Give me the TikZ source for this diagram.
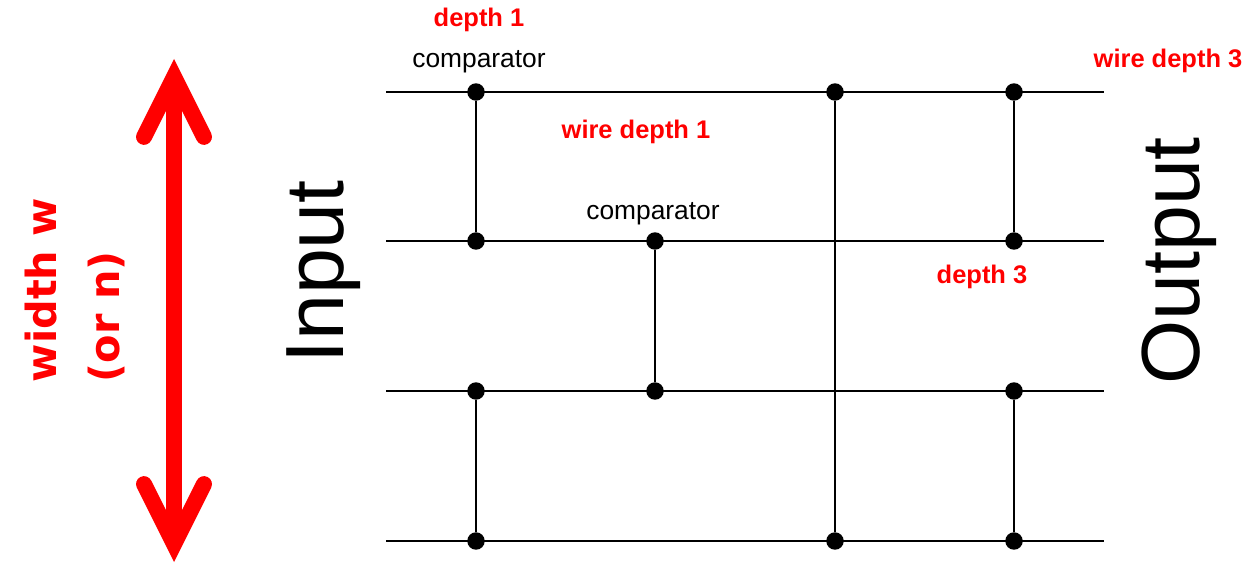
\documentclass[tikz,border=0pt]{standalone}
\usepackage{fontspec}
\setmainfont{Liberation Sans}
\newfontfamily\widthfont{DejaVu Sans}
\usetikzlibrary{arrows.meta}

\tikzset{
  wire/.style={line width=0.9pt},
  comp/.style={circle, fill=black, inner sep=0pt, minimum size=0.35cm},
  note/.style={text=red, font=\bfseries\fontsize{14.5}{17}\selectfont},
  lbl/.style={font=\fontsize{15}{18}\selectfont},
  side/.style={rotate=90, anchor=base, inner sep=0pt, font=\fontsize{47}{50}\selectfont},
}

\begin{document}
\begin{tikzpicture}[x=0.02cm, y=-0.02cm]
\useasboundingbox (0,0) rectangle (1249,588);

% the four wires
\foreach \i/\y in {0/92, 1/241, 2/391, 3/541} {
  \coordinate (in\i) at (386,\y);
  \coordinate (out\i) at (1104,\y);
  \draw[wire] (in\i) -- (out\i);
}

% comparators (dots)
\node[comp] (a0) at (476,92) {};
\node[comp] (a1) at (476,241) {};
\node[comp] (a2) at (476,391) {};
\node[comp] (a3) at (476,541) {};
\node[comp] (b1) at (655,241) {};
\node[comp] (b2) at (655,391) {};
\node[comp] (c0) at (835,92) {};
\node[comp] (c3) at (835,541) {};
\node[comp] (d0) at (1014,92) {};
\node[comp] (d1) at (1014,241) {};
\node[comp] (d2) at (1014,391) {};
\node[comp] (d3) at (1014,541) {};

\draw[wire] (a0) -- (a1);
\draw[wire] (a2) -- (a3);
\draw[wire] (b1) -- (b2);
\draw[wire] (c0) -- (c3);
\draw[wire] (d0) -- (d1);
\draw[wire] (d2) -- (d3);

% labels
\node[note] (dep1) at (479,20) {depth 1};
\node[lbl] (cmp1) at (479,62) {comparator};
\node[note] (wdep1) at (636,132) {wire depth 1};
\node[lbl] (cmp2) at (653,214) {comparator};
\node[note] (wdep3) at (1168,61) {wire depth 3};
\node[note] (dep3) at (982,277) {depth 3};

\node[side] (inp) at (343,272) {Input};
\node[side] (outp) at (1199,261) {Output};

% width arrow
\coordinate (wtop) at (174,59);
\coordinate (wbot) at (174,562);
\draw[red, line width=0.32cm,
  {Straight Barb[length=1.2cm, width=1.2cm, line cap=round, line join=miter]}-{Straight Barb[length=1.2cm, width=1.2cm, line cap=round, line join=miter]}]
  (wtop) -- (wbot);
\node[rotate=90, inner sep=0pt, align=left, text=red,
  font=\widthfont\bfseries\fontsize{23.6}{36}\selectfont] (wlab) at (75,290) {width w\\(or n)};
\end{tikzpicture}
\end{document}
